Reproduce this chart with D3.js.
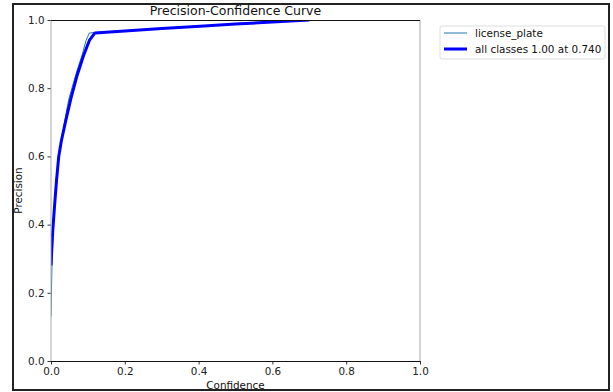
<!DOCTYPE html>
<html>
<head>
<meta charset="utf-8">
<script src="https://cdn.jsdelivr.net/npm/d3@7"></script>
<style>
  body { margin: 0; background: #fff; }
  svg { display: block; font-family: 'DejaVu Sans', sans-serif; }
</style>
</head>
<body>
<div id="chart"></div>
<script>
// data
const confAll = [0.0, 0.004, 0.01, 0.015, 0.021, 0.028, 0.04, 0.054, 0.07, 0.088, 0.104, 0.119, 0.2, 0.3, 0.404, 0.5, 0.6, 0.7];
const precAll = [0.28, 0.37, 0.46, 0.53, 0.60, 0.645, 0.705, 0.77, 0.835, 0.895, 0.94, 0.962, 0.968, 0.975, 0.982, 0.988, 0.994, 1.0];
const confPlate = [0.0, 0.003, 0.008, 0.014, 0.02, 0.03, 0.045, 0.05, 0.07, 0.085, 0.095, 0.104, 0.119, 0.2, 0.3, 0.404, 0.5, 0.6, 0.7];
const precPlate = [0.13, 0.30, 0.44, 0.53, 0.60, 0.66, 0.75, 0.775, 0.85, 0.90, 0.94, 0.962, 0.963, 0.968, 0.975, 0.982, 0.988, 0.994, 1.0];
const tickVals = [0, 0.2, 0.4, 0.6, 0.8, 1.0];
const legendLabels = ['license_plate', 'all classes 1.00 at 0.740'];

const width = 613, height = 392;
const plot = { left: 51, right: 420, top: 20, bottom: 361 };

const svg = d3.select('#chart').append('svg')
  .attr('width', width)
  .attr('height', height);

const x = d3.scaleLinear().domain([0, 1]).range([plot.left, plot.right]);
const y = d3.scaleLinear().domain([0, 1]).range([plot.bottom, plot.top]);

// outer frame
svg.append('rect')
  .attr('x', 13).attr('y', 4)
  .attr('width', 596).attr('height', 386)
  .attr('fill', 'none')
  .attr('stroke', '#222')
  .attr('stroke-width', 2);

svg.append('clipPath').attr('id', 'clip')
  .append('rect')
  .attr('x', plot.left).attr('y', plot.top)
  .attr('width', plot.right - plot.left)
  .attr('height', plot.bottom - plot.top);

const line = d3.line()
  .x(d => x(d[0]))
  .y(d => y(d[1]));

const g = svg.append('g').attr('clip-path', 'url(#clip)');

g.append('path')
  .datum(d3.zip(confPlate, precPlate))
  .attr('d', line)
  .attr('fill', 'none')
  .attr('stroke', '#1f77b4')
  .attr('stroke-width', 1);

g.append('path')
  .datum(d3.zip(confAll, precAll))
  .attr('d', line)
  .attr('fill', 'none')
  .attr('stroke', '#0000ff')
  .attr('stroke-width', 3)
  .attr('stroke-linejoin', 'round');

// axes
const fmt = d3.format('.1f');
const xAxis = svg.append('g')
  .attr('transform', `translate(0,${plot.bottom})`)
  .call(d3.axisBottom(x).tickValues(tickVals).tickFormat(fmt).tickSize(3.5).tickPadding(3));
const yAxis = svg.append('g')
  .attr('transform', `translate(${plot.left},0)`)
  .call(d3.axisLeft(y).tickValues(tickVals).tickFormat(fmt).tickSize(3.5).tickPadding(3));

[xAxis, yAxis].forEach(a => {
  a.select('.domain').remove();
  a.selectAll('text')
    .attr('font-family', 'DejaVu Sans, sans-serif')
    .attr('font-size', 10.4)
    .attr('fill', '#222');
  a.selectAll('line').attr('stroke', '#333');
});

// spines
svg.append('line')
  .attr('x1', plot.left).attr('x2', plot.left)
  .attr('y1', plot.top).attr('y2', plot.bottom)
  .attr('stroke', '#aaa');
svg.append('line')
  .attr('x1', plot.right).attr('x2', plot.right)
  .attr('y1', plot.top).attr('y2', plot.bottom)
  .attr('stroke', '#aaa');
svg.append('line')
  .attr('x1', plot.left).attr('x2', plot.right)
  .attr('y1', plot.top + 0.5).attr('y2', plot.top + 0.5)
  .attr('stroke', '#111');
svg.append('line')
  .attr('x1', plot.left).attr('x2', plot.right)
  .attr('y1', plot.bottom + 0.5).attr('y2', plot.bottom + 0.5)
  .attr('stroke', '#111');

// title and labels
svg.append('text')
  .attr('x', (plot.left + plot.right) / 2)
  .attr('y', 15)
  .attr('text-anchor', 'middle')
  .attr('font-size', 12.5)
  .attr('fill', '#111')
  .text('Precision-Confidence Curve');

svg.append('text')
  .attr('x', (plot.left + plot.right) / 2)
  .attr('y', 389)
  .attr('text-anchor', 'middle')
  .attr('font-size', 10.4)
  .attr('fill', '#111')
  .text('Confidence');

svg.append('text')
  .attr('transform', `translate(22,${(plot.top + plot.bottom) / 2}) rotate(-90)`)
  .attr('text-anchor', 'middle')
  .attr('font-size', 10.4)
  .attr('fill', '#111')
  .text('Precision');

// legend
const legend = svg.append('g').attr('transform', 'translate(440,26)');
legend.append('rect')
  .attr('width', 165).attr('height', 33)
  .attr('rx', 2)
  .attr('fill', '#fff')
  .attr('stroke', '#ddd');

const legendStyles = [
  { color: '#1f77b4', w: 1 },
  { color: '#0000ff', w: 3 }
];
legendLabels.forEach((lab, i) => {
  const ly = 7 + i * 16;
  legend.append('line')
    .attr('x1', 4).attr('x2', 27)
    .attr('y1', ly).attr('y2', ly)
    .attr('stroke', legendStyles[i].color)
    .attr('stroke-width', legendStyles[i].w);
  legend.append('text')
    .attr('x', 35).attr('y', ly)
    .attr('dy', '0.35em')
    .attr('font-size', 10.4)
    .attr('fill', '#111')
    .text(lab);
});
</script>
</body>
</html>
